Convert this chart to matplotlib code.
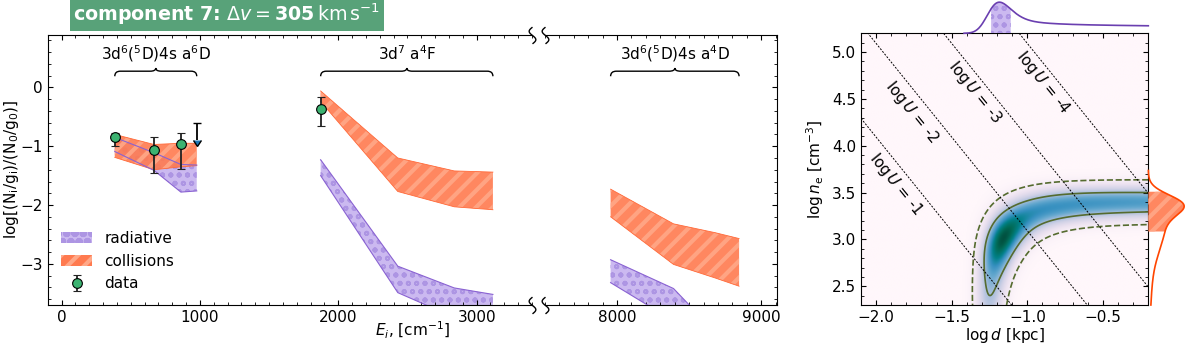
import numpy as np
import matplotlib
matplotlib.use("Agg")
import matplotlib.pyplot as plt
from matplotlib.path import Path
from matplotlib.patches import PathPatch, Patch
from matplotlib.ticker import MultipleLocator
from matplotlib.colors import PowerNorm

plt.rcParams["font.family"] = "DejaVu Sans"
plt.rcParams["font.size"] = 11
plt.rcParams["mathtext.fontset"] = "dejavusans"
plt.rcParams["xtick.direction"] = "in"
plt.rcParams["ytick.direction"] = "in"

# --- Fe II level energies [cm^-1] and model bands (log relative populations)
E_a6D = [384.79, 667.68, 862.61, 977.05]
rad_a6D_hi = [-0.85, -1.11, -1.31, -1.32]
rad_a6D_lo = [-1.09, -1.41, -1.78, -1.76]
col_a6D_hi = [-0.80, -0.97, -0.95, -0.95]
col_a6D_lo = [-1.19, -1.40, -1.35, -1.33]

E_a4F = [1872.60, 2430.14, 2837.98, 3117.46]
rad_a4F_hi = [-1.23, -3.04, -3.41, -3.52]
rad_a4F_lo = [-1.50, -3.49, -3.91, -4.30]
col_a4F_hi = [-0.06, -1.20, -1.42, -1.44]
col_a4F_lo = [-0.24, -1.77, -2.03, -2.08]

E_a4D = [7955.32, 8391.94, 8680.45, 8846.77]
rad_a4D_hi = [-2.93, -3.42, -4.16, -4.40]
rad_a4D_lo = [-3.32, -3.97, -4.50, -4.70]
col_a4D_hi = [-1.73, -2.32, -2.47, -2.57]
col_a4D_lo = [-2.20, -3.01, -3.24, -3.38]

data_E = [384.79, 667.68, 862.61, 1872.60]
data_y = [-0.85, -1.07, -0.97, -0.37]
data_err_lo = [0.14, 0.38, 0.41, 0.29]
data_err_hi = [0.08, 0.23, 0.19, 0.20]
ulim_E = [977.05]
ulim_y = [-0.60]
ulim_len = [0.30]

terms = [r"3d$^6$($^5$D)4s a$^6$D", r"3d$^7$ a$^4$F", r"3d$^6$($^5$D)4s a$^4$D"]

# --- distance / density constraint
d_rad = -1.27      # log d where radiation alone explains excitation
n_col = 3.40       # log n_e where collisions alone explain excitation
sig = 0.10
peak_d, peak_n = -1.17, 3.0
logU_vals = [-1, -2, -3, -4]
logU_zero = -0.908
logU_label_xy = [(-1.867, 3.587), (-1.76, 4.36), (-1.347, 4.57), (-0.893, 4.68)]
d_interval = [-1.24, -1.11]
n_interval = [3.08, 3.51]

RAD_FACE, RAD_DOT, RAD_EDGE = "#cbb9f0", "#ad95e3", "#8a63d2"
COL_FACE, COL_HATCH, COL_EDGE = "#ff7a4f", "#ffa888", "#ff6a3a"


def hatch_lw(artist, lw):
    if hasattr(artist, "set_hatch_linewidth"):
        artist.set_hatch_linewidth(lw)


def band(ax, x, lo, hi, kind):
    if kind == "rad":
        plt.rcParams["hatch.linewidth"] = 1.3
        fb = ax.fill_between(x, lo, hi, facecolor=RAD_FACE, edgecolor=RAD_DOT,
                             hatch="oo", linewidth=0, zorder=1)
        hatch_lw(fb, 1.3)
        for yy in (lo, hi):
            ax.plot(x, yy, color=RAD_EDGE, lw=0.8, zorder=4)
    else:
        plt.rcParams["hatch.linewidth"] = 3.0
        fb = ax.fill_between(x, lo, hi, facecolor=COL_FACE, edgecolor=COL_HATCH,
                             hatch="//", linewidth=0, alpha=0.9, zorder=2)
        hatch_lw(fb, 3.0)
        for yy in (lo, hi):
            ax.plot(x, yy, color=COL_EDGE, lw=0.6, zorder=3)


def brace(ax, x0, x1, label, c=40):
    y0, y1, y2 = 0.19, 0.276, 0.33
    xm = 0.5 * (x0 + x1)
    verts = [(x0, y0), (x0, y1), (x0 + c, y1), (xm - c, y1), (xm, y1), (xm, y2),
             (xm, y1), (xm + c, y1), (x1 - c, y1), (x1, y1), (x1, y0)]
    codes = [Path.MOVETO, Path.CURVE3, Path.CURVE3, Path.LINETO, Path.CURVE3, Path.CURVE3,
             Path.CURVE3, Path.CURVE3, Path.LINETO, Path.CURVE3, Path.CURVE3]
    ax.add_patch(PathPatch(Path(verts, codes), fill=False, lw=1.0, color="k", clip_on=False))
    ax.text(xm, 0.58, label, ha="center", va="center", fontsize=11)


W, H = 1196, 347
fig = plt.figure(figsize=(W / 100, H / 100), dpi=100)
axA = fig.add_axes([47.7 / W, (H - 305) / H, (532 - 47.7) / W, (305 - 34.5) / H])
axB = fig.add_axes([545 / W, (H - 305) / H, (777 - 545) / W, (305 - 34.5) / H])

for ax in (axA, axB):
    band(ax, E_a6D, rad_a6D_lo, rad_a6D_hi, "rad")
    band(ax, E_a6D, col_a6D_lo, col_a6D_hi, "col")
    band(ax, E_a4F, rad_a4F_lo, rad_a4F_hi, "rad")
    band(ax, E_a4F, col_a4F_lo, col_a4F_hi, "col")
    band(ax, E_a4D, rad_a4D_lo, rad_a4D_hi, "rad")
    band(ax, E_a4D, col_a4D_lo, col_a4D_hi, "col")
    ax.set_ylim(-3.7, 0.9)
    ax.yaxis.set_major_locator(MultipleLocator(1))
    ax.yaxis.set_minor_locator(MultipleLocator(0.2))
    ax.xaxis.set_major_locator(MultipleLocator(1000))
    ax.xaxis.set_minor_locator(MultipleLocator(100))

eb = axA.errorbar(data_E, data_y, yerr=[data_err_lo, data_err_hi], fmt="o",
                  mfc="#3cb371", mec="k", mew=0.8, ms=7, ecolor="#222222",
                  elinewidth=1.3, capsize=3, capthick=1.0, zorder=6)
axA.errorbar(ulim_E, ulim_y, yerr=ulim_len, uplims=True, fmt="none",
             ecolor="k", elinewidth=1.3, capsize=3, capthick=1.0, zorder=6)

axA.set_xlim(-100, 3400)
axB.set_xlim(7500, 9110)
axA.spines["right"].set_visible(False)
axB.spines["left"].set_visible(False)
axA.tick_params(which="both", top=True, right=False)
axB.tick_params(which="both", top=True, left=False, right=True, labelleft=False)

brace(axA, E_a6D[0], E_a6D[-1], terms[0])
brace(axA, E_a4F[0], E_a4F[-1], terms[1])
brace(axB, E_a4D[0], E_a4D[-1], terms[2])

t = np.linspace(-1, 1, 40)
wig = list(zip(-0.4 * np.sin(np.pi * t), t))
axA.plot([1, 1], [0, 1], transform=axA.transAxes, marker=wig, ms=12, mec="k",
         mfc="none", mew=1, ls="none", clip_on=False)
axB.plot([0, 0], [0, 1], transform=axB.transAxes, marker=wig, ms=12, mec="k",
         mfc="none", mew=1, ls="none", clip_on=False)

axA.set_ylabel(r"log[(N$_\mathrm{i}$/g$_\mathrm{i}$)/(N$_0$/g$_0$)]")
axA.yaxis.set_label_coords(-27 / 484.3, 0.5)
fig.text(412 / W, 1 - 330 / H, r"$E_i$, [cm$^{-1}$]", ha="center", va="center", fontsize=11)

leg_handles = [Patch(facecolor=RAD_FACE, edgecolor=RAD_DOT, hatch="oo", lw=0),
               Patch(facecolor=COL_FACE, edgecolor=COL_HATCH, hatch="//", lw=0),
               eb]
axA.legend(leg_handles, ["radiative", "collisions", "data"], loc="lower left", frameon=False)

fig.text(227 / W, 1 - 14 / H,
         r"component 7: $\Delta v = \mathbf{305}\,\mathrm{km\,s^{-1}}$",
         ha="center", va="center", color="white", fontsize=13.7, fontweight="bold",
         bbox=dict(boxstyle="square,pad=0.2", fc="#58a279", ec="none"))

# --- right: log d vs log n_e
axR = fig.add_axes([861 / W, (H - 305) / H, (1148.3 - 861) / W, (305 - 33.3) / H])
axT = fig.add_axes([861 / W, (H - 33.3) / H, (1148.3 - 861) / W, 33.3 / H])
axS = fig.add_axes([1148.3 / W, (H - 305) / H, (W - 1148.3) / W, (305 - 33.3) / H])

xlim, ylim = (-2.1, -0.2), (2.3, 5.2)
d_grid = np.linspace(*xlim, 500)
n_grid = np.linspace(*ylim, 500)
X, Y = np.meshgrid(d_grid, n_grid)
f = np.log10(10 ** (Y - n_col) + 10 ** (-2 * (X - d_rad)))
like = np.exp(-0.5 * (f / sig) ** 2)
s_n = np.exp(-0.5 * (np.clip(Y - 3.4, None, 0) / 0.82) ** 2)
h_d = np.exp(-0.2 * np.clip(X + 1.2, 0, None))
bump = 0.4 * np.exp(-0.5 * (((X - peak_d) / 0.11) ** 2 + ((Y - peak_n) / 0.2) ** 2))
post = like * (0.55 * s_n * h_d + bump)
post /= post.max()

axR.imshow(post, origin="lower", extent=[*xlim, *ylim], aspect="auto", cmap="PuBuGn",
           norm=PowerNorm(gamma=0.8, vmin=0, vmax=1.05), interpolation="bilinear")
axR.contour(X, Y, post, levels=[0.03, 0.3], colors="#556b2f",
            linestyles=["--", "-"], linewidths=1.2)

for lu, (lx, ly) in zip(logU_vals, logU_label_xy):
    xs = np.array(xlim)
    axR.plot(xs, logU_zero - lu - 2 * xs, color="k", ls="--", lw=0.7, dashes=(2, 1.5))
    p1 = axR.transData.transform((xs[0], logU_zero - lu - 2 * xs[0]))
    p2 = axR.transData.transform((xs[1], logU_zero - lu - 2 * xs[1]))
    ang = np.degrees(np.arctan2(p2[1] - p1[1], p2[0] - p1[0]))
    axR.text(lx, ly, r"$\log U$ = %d" % lu, rotation=ang, ha="center", va="center",
             rotation_mode="anchor", fontsize=11)

axR.set_xlim(*xlim)
axR.set_ylim(*ylim)
axR.xaxis.set_major_locator(MultipleLocator(0.5))
axR.xaxis.set_minor_locator(MultipleLocator(0.1))
axR.yaxis.set_major_locator(MultipleLocator(0.5))
axR.yaxis.set_minor_locator(MultipleLocator(0.1))
axR.tick_params(which="both", top=True, right=True)
axR.set_xlabel(r"$\log d$ [kpc]", labelpad=1)
axR.set_ylabel(r"$\log n_{\rm e}$ [cm$^{-3}$]")

m_d = post.sum(axis=0)
m_d /= m_d.max()
m_n = post.sum(axis=1)
m_n /= m_n.max()

plt.rcParams["hatch.linewidth"] = 1.3
sel = (d_grid >= d_interval[0]) & (d_grid <= d_interval[1])
fb = axT.fill_between(d_grid[sel], 0, m_d[sel], facecolor=RAD_FACE, edgecolor=RAD_DOT,
                      hatch="oo", linewidth=0)
hatch_lw(fb, 1.3)
axT.plot(d_grid, np.where(m_d < 2e-3, np.nan, m_d), color="#6a3fb0", lw=1.2, clip_on=False)
axT.set_xlim(*xlim)
axT.set_ylim(0, 1.07)
axT.axis("off")

plt.rcParams["hatch.linewidth"] = 3.0
sel = (n_grid >= n_interval[0]) & (n_grid <= n_interval[1])
fb = axS.fill_betweenx(n_grid[sel], 0, m_n[sel], facecolor=COL_FACE, edgecolor=COL_HATCH,
                       hatch="//", linewidth=0, alpha=0.9)
hatch_lw(fb, 3.0)
axS.plot(np.where(m_n < 2e-3, np.nan, m_n), n_grid, color="#ff4500", lw=1.2, clip_on=False)
axS.set_ylim(*ylim)
axS.set_xlim(0, 1.33)
axS.axis("off")

fig.savefig("out.png", dpi=100)
